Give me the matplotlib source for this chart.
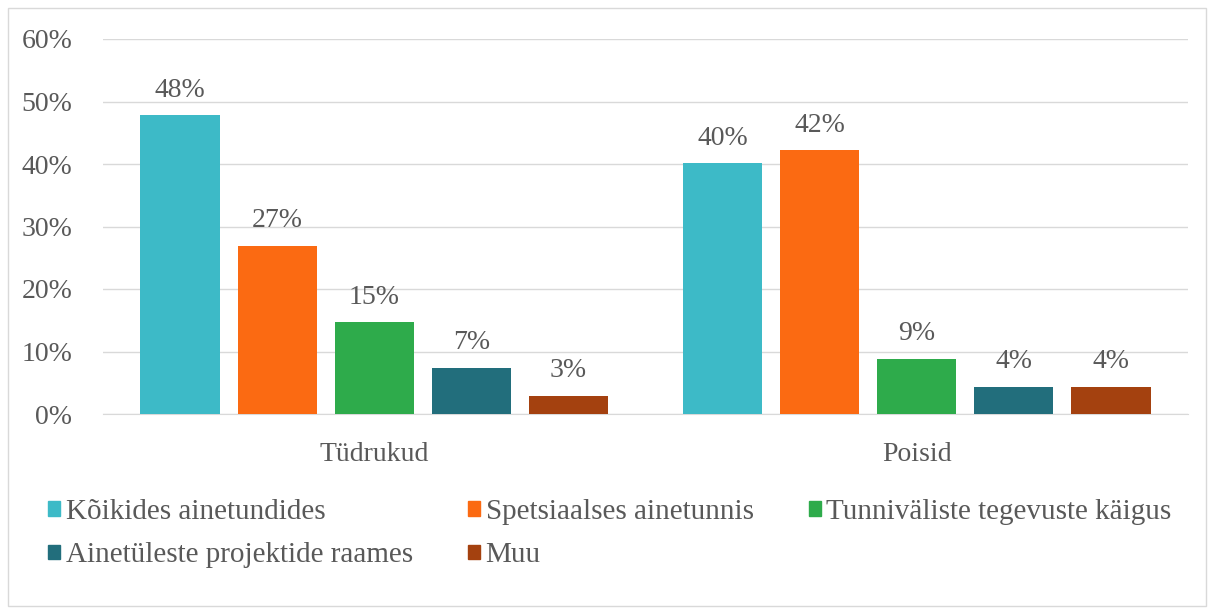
import numpy as np
import matplotlib
matplotlib.use("Agg")
import matplotlib.pyplot as plt
from matplotlib.patches import Rectangle, Patch

plt.rcParams['font.family'] = ['Liberation Serif', 'DejaVu Serif']

# andmed
groups = ["Tüdrukud", "Poisid"]
series = ["Kõikides ainetundides", "Spetsiaalses ainetunnis",
          "Tunniväliste tegevuste käigus", "Ainetüleste projektide raames", "Muu"]
kõikides = [47.8, 40.1]
spetsiaalses = [26.9, 42.2]
tunnivalised = [14.7, 8.8]
projektid = [7.4, 4.4]
muu = [2.9, 4.4]
values = [kõikides, spetsiaalses, tunnivalised, projektid, muu]
colors = ["#3DBAC7", "#FB6A12", "#2EAB4B", "#226E7C", "#A4410F"]
yticks = [0, 10, 20, 30, 40, 50, 60]

txt = "#595959"
fs = 20

fig = plt.figure(figsize=(12.14, 6.12), dpi=100)
ax = fig.add_axes([103/1214, 1-414/612, 1085/1214, 375/612])

x = np.arange(len(groups))
step = 0.179
width = 0.146
for i, (vals, c) in enumerate(zip(values, colors)):
    pos = x + (i - 2) * step
    ax.bar(pos, vals, width, color=c, zorder=3)
    for p, v in zip(pos, vals):
        ax.text(p, v + 2.0, "%d%%" % round(v), ha="center", va="bottom",
                fontsize=fs, color=txt)

ax.set_xlim(-0.5, 1.5)
ax.set_ylim(0, 60)
ax.set_yticks(yticks)
ax.set_yticklabels(["%d%%" % t for t in yticks], fontsize=fs, color=txt)
ax.set_xticks(x)
ax.set_xticklabels(groups, fontsize=fs, color=txt)
ax.tick_params(length=0)
ax.tick_params(axis="x", pad=20)
ax.tick_params(axis="y", pad=22)
ax.grid(axis="y", color="#D9D9D9", linewidth=1, zorder=0)
for s in ["left", "right", "top"]:
    ax.spines[s].set_visible(False)
ax.spines["bottom"].set_color("#D9D9D9")

# legend rea kaupa: 1,4,2,5,3
handles = [Patch(color=c) for c in colors]
order = [0, 3, 1, 4, 2]
leg = fig.legend([handles[i] for i in order], [series[i] for i in order],
                 ncol=3, loc="upper left", bbox_to_anchor=(48/1214, 1-499/612),
                 frameon=False, fontsize=21, handlelength=0.4, handleheight=0.4,
                 handletextpad=0.2, columnspacing=1.9, labelspacing=0.6,
                 borderaxespad=0, borderpad=0, labelcolor=txt)

fig.patches.append(Rectangle((8/1214, 6/612), 1198/1214, 598/612,
                             transform=fig.transFigure, fill=False,
                             edgecolor="#D9D9D9", linewidth=1))

fig.savefig("out.png", dpi=100)
